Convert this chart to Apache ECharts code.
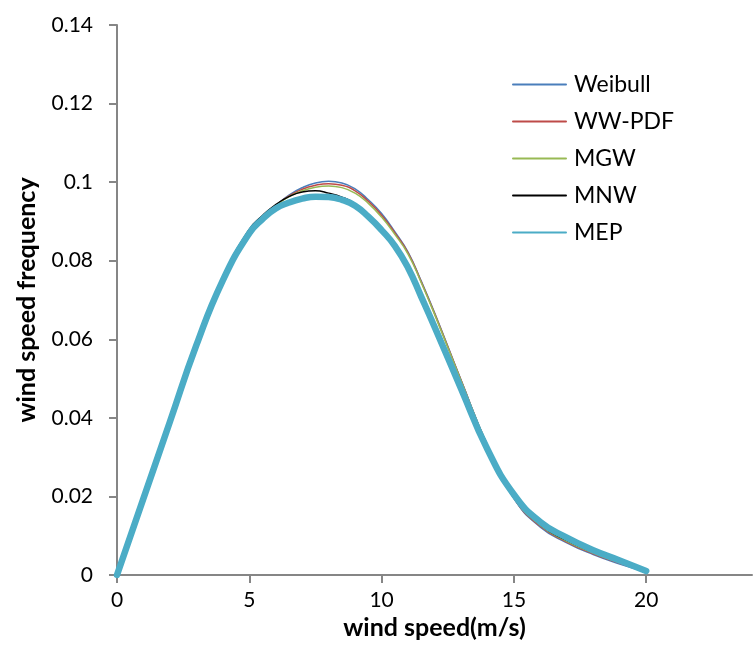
<!DOCTYPE html>
<html>
<head>
<meta charset="utf-8">
<title>wind speed frequency</title>
<script src="https://cdn.jsdelivr.net/npm/echarts@6/dist/echarts.min.js"></script>
<style>
  html, body { margin: 0; padding: 0; background: #fff; }
  #chart { width: 755px; height: 662px; }
</style>
</head>
<body>
<div id="chart"></div>
<script>
// wind speed (m/s) - half steps round the peak so the top stays round
var windSpeed = [0, 1, 2, 3, 4, 5, 5.5, 6, 6.5, 7, 7.5, 8, 8.5, 9, 9.5, 10, 10.5, 11, 11.5, 12, 13, 14, 15, 16, 17, 18, 19, 20];

// frequency of each fitted distribution
var weibull = [0, 0.0193, 0.0388, 0.0583, 0.0752, 0.0872, 0.0910, 0.0940, 0.0967, 0.0986, 0.0998, 0.1002, 0.0998, 0.0983, 0.0955, 0.0920, 0.0874, 0.0822, 0.0748, 0.0668, 0.0497, 0.0330, 0.0195, 0.0122, 0.0082, 0.0052, 0.0028, 0.0008];
var wwPdf   = [0, 0.0193, 0.0388, 0.0583, 0.0752, 0.0872, 0.0910, 0.0940, 0.0965, 0.0982, 0.0992, 0.0996, 0.0992, 0.0978, 0.0951, 0.0916, 0.0871, 0.0820, 0.0746, 0.0666, 0.0496, 0.0330, 0.0196, 0.0124, 0.0084, 0.0054, 0.0030, 0.0009];
var mgw     = [0, 0.0194, 0.0389, 0.0584, 0.0753, 0.0873, 0.0911, 0.0940, 0.0963, 0.0978, 0.0987, 0.0990, 0.0986, 0.0972, 0.0946, 0.0911, 0.0867, 0.0817, 0.0744, 0.0664, 0.0495, 0.0330, 0.0198, 0.0126, 0.0086, 0.0056, 0.0031, 0.0009];
var mnw     = [0, 0.0196, 0.0393, 0.0588, 0.0758, 0.0880, 0.0915, 0.0943, 0.0963, 0.0975, 0.0978, 0.0972, 0.0962, 0.0945, 0.0915, 0.0882, 0.0842, 0.0788, 0.0716, 0.0640, 0.0482, 0.0326, 0.0200, 0.0128, 0.0088, 0.0058, 0.0033, 0.0009];
var mep     = [0, 0.0195, 0.0390, 0.0585, 0.0750, 0.0870, 0.0906, 0.0933, 0.0948, 0.0958, 0.0963, 0.0962, 0.0955, 0.0940, 0.0912, 0.0878, 0.0838, 0.0782, 0.0708, 0.0632, 0.0475, 0.0320, 0.0205, 0.0135, 0.0095, 0.0063, 0.0037, 0.0010];

var xTicks = [0, 5, 10, 15, 20];
var yTicks = [0, 0.02, 0.04, 0.06, 0.08, 0.1, 0.12, 0.14];

var FONT = 'Lato, "Open Sans", sans-serif';
var AXIS_GREY = '#868686';

// pair x with y for a value axis
function pairs(ys) {
    return windSpeed.map(function(x, i) { return [x, ys[i]]; });
}

function lineSeries(name, ys, color, width) {
    return {
        name: name,
        type: 'line',
        data: pairs(ys),
        smooth: true,
        symbol: 'none',
        lineStyle: { color: color, width: width, cap: 'round' },
        itemStyle: { color: color }
    };
}

var chart = echarts.init(document.getElementById('chart'), null, { renderer: 'canvas' });

chart.setOption({
    backgroundColor: '#fff',
    animation: false,
    textStyle: { fontFamily: FONT },
    grid: { left: 117, right: 3, top: 25, bottom: 87 },
    legend: {
        orient: 'vertical',
        left: 507,
        top: 68,
        itemWidth: 53,
        itemHeight: 14,
        itemGap: 14,
        itemStyle: { opacity: 0 },   // hide the dot, keep the line
        textStyle: { fontFamily: FONT, fontSize: 23, color: '#000', padding: [0, 0, 0, 3] },
        data: ['Weibull', 'WW-PDF', 'MGW', 'MNW', 'MEP']
    },
    xAxis: {
        type: 'value',
        min: 0,
        max: 24,
        interval: 5,
        name: 'wind speed(m/s)',
        nameLocation: 'middle',
        nameGap: 36,
        nameTextStyle: { fontFamily: FONT, fontSize: 25, fontWeight: 'bold', color: '#000', verticalAlign: 'top' },
        axisLine: { lineStyle: { color: AXIS_GREY, width: 2 } },
        axisTick: { show: true, length: 8, lineStyle: { color: AXIS_GREY, width: 2 }, customValues: xTicks },
        axisLabel: { fontFamily: FONT, fontSize: 21, color: '#000', margin: 15, customValues: xTicks },
        splitLine: { show: false }
    },
    yAxis: {
        type: 'value',
        min: 0,
        max: 0.14,
        interval: 0.02,
        name: 'wind speed frequency',
        nameLocation: 'middle',
        nameGap: 78,
        nameTextStyle: { fontFamily: FONT, fontSize: 25, fontWeight: 'bold', color: '#000' },
        axisLine: { show: true, lineStyle: { color: AXIS_GREY, width: 2 } },
        axisTick: { show: true, length: 8, lineStyle: { color: AXIS_GREY, width: 2 }, customValues: yTicks },
        axisLabel: {
            fontFamily: FONT, fontSize: 21, color: '#000', margin: 24,
            customValues: yTicks,
            formatter: function(v) { return String(Math.round(v * 100) / 100); }
        },
        splitLine: { show: false }
    },
    series: [
        lineSeries('Weibull', weibull, '#4A7EBB', 1.5),
        lineSeries('WW-PDF', wwPdf, '#BE4B48', 1.5),
        lineSeries('MGW', mgw, '#98B954', 1.5),
        lineSeries('MNW', mnw, '#000000', 1.5),
        lineSeries('MEP', mep, '#4BACC6', 6.5)
    ]
});
</script>
</body>
</html>
